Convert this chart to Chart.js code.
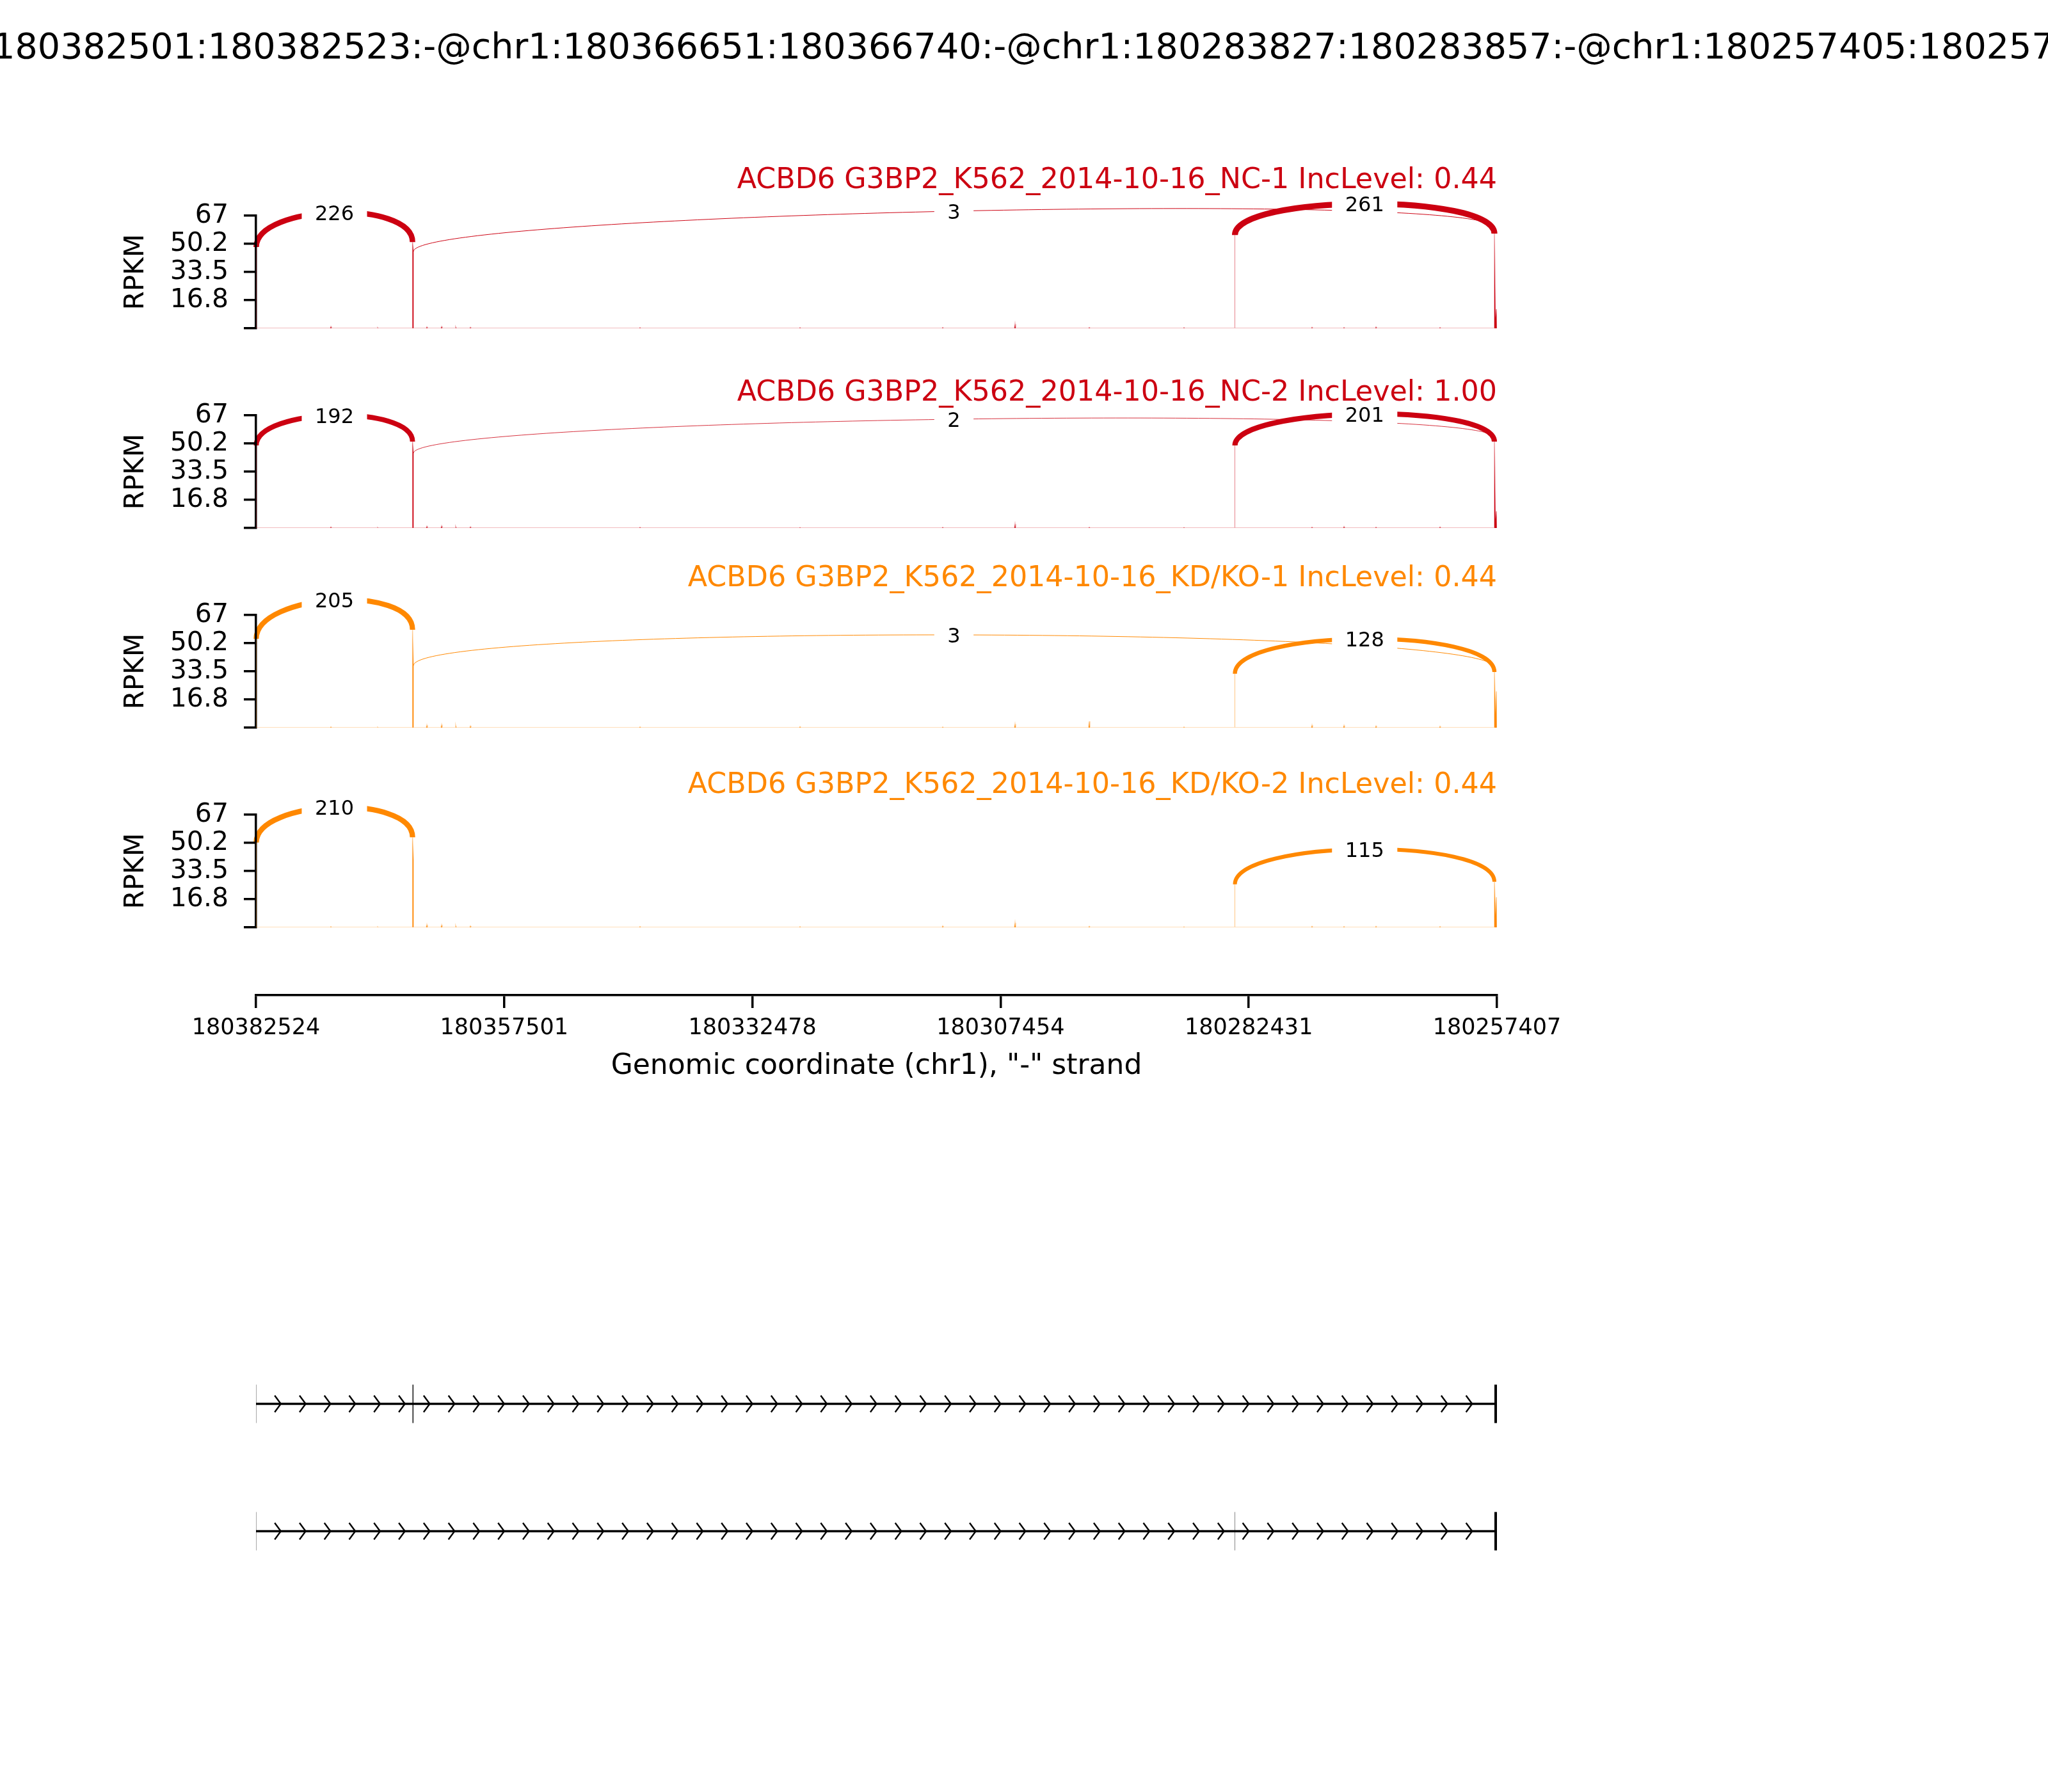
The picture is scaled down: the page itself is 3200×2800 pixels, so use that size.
<!DOCTYPE html>
<html>
<head>
<meta charset="utf-8">
<script src="https://cdn.jsdelivr.net/npm/chart.js@4.4.1/dist/chart.umd.min.js"></script>
<style>
  html, body { margin: 0; padding: 0; background: #fff; }
  #fig { position: relative; width: 3200px; height: 2800px; background: #fff; overflow: hidden; }
  #fig canvas { position: absolute; left: 0; }
</style>
</head>
<body>
<div id="fig"></div>
<script>
// ---- data ----
const eventTitle = 'chr1:180382501:180382523:-@chr1:180366651:180366740:-@chr1:180283827:180283857:-@chr1:180257405:180257665:-';
const sampleNames = ['ACBD6 G3BP2_K562_2014-10-16_NC-1', 'ACBD6 G3BP2_K562_2014-10-16_NC-2',
                     'ACBD6 G3BP2_K562_2014-10-16_KD/KO-1', 'ACBD6 G3BP2_K562_2014-10-16_KD/KO-2'];
const incLevels = ['0.44', '1.00', '0.44', '0.44'];
const sampleColors = ['#CC0011', '#CC0011', '#FF8800', '#FF8800'];

// genomic window (minus strand, drawn right to left)
const xLeft = 180382524;
const xRight = 180257407;
const xTicks = [180382524, 180357501, 180332478, 180307454, 180282431, 180257407];
const xTickLabels = ['180382524', '180357501', '180332478', '180307454', '180282431', '180257407'];
const yTicks = [0, 16.75, 33.5, 50.25, 67];
const yTickLabels = ['', '16.8', '33.5', '50.2', '67'];

// exons and the two isoforms
const exonStarts = [180382501, 180366651, 180283827, 180257405];
const exonEnds = [180382523, 180366740, 180283857, 180257665];
const isoforms = [[0, 1, 3], [0, 2, 3]];

// junctions (donor end -> acceptor end)
const junctionFrom = [180382501, 180366651, 180283827];
const junctionTo = [180366740, 180257665, 180257665];
const junctionCounts = [[226, 3, 261], [192, 2, 201], [205, 3, 128], [210, 0, 115]];
// RPKM where each arc leaves, lands, and at its middle (label)
const junctionLeft = [[48.3, 45.7, 55.5], [49.1, 44.5, 49.1], [52.8, 36.9, 32.1], [50.4, 0, 25.6]];
const junctionRight = [[51.3, 59.8, 56.3], [51.4, 53.7, 51.4], [58.2, 35.8, 33.1], [53.6, 0, 27.1]];
const junctionMid = [[68.9, 69.7, 74.1], [67.0, 64.7, 67.8], [75.9, 55.2, 52.8], [71.4, 0, 46.5]];

// read coverage on the exons
const exonCovPos = [[180382523, 180382501], [180366740, 180366651], [180283857, 180283827],
                    [180257665, 180257560, 180257470, 180257430]];
const exonCovRPKM = [
  [[48.3, 48.3], [51.3, 45.7], [55.5, 55.5], [56.3, 6, 11.4, 4]],
  [[49.1, 49.1], [51.4, 44.5], [49.1, 49.1], [51.4, 5, 10, 3]],
  [[52.8, 52.8], [58.2, 36.9], [32.1, 32.1], [33.1, 8, 21.6, 5]],
  [[50.4, 50.4], [53.6, 40.0], [25.6, 25.6], [27.1, 7, 18, 4]]
];
// small intronic read piles
const bumpPos = [180374974, 180370264, 180365295, 180363811, 180362392, 180360907, 180343808, 180327676,
                 180313287, 180305995, 180298510, 180288960, 180276054, 180272828, 180269602, 180263149];
const bumpRPKM = [
  [1.0, 0.4, 0.8, 1.0, 0.8, 0.6, 0.4, 0.4, 0.5, 2.6, 0.5, 0.4, 0.6, 0.5, 0.8, 0.5],
  [0.6, 0.3, 1.0, 1.2, 0.9, 0.7, 0.4, 0.3, 0.4, 2.4, 0.4, 0.3, 0.5, 0.8, 0.5, 0.6],
  [0.5, 0.3, 1.5, 1.8, 1.4, 1.0, 0.5, 0.6, 0.4, 2.2, 3.8, 0.4, 1.5, 1.3, 1.0, 0.8],
  [0.4, 0.3, 1.6, 1.4, 1.0, 0.8, 0.5, 0.4, 0.8, 2.8, 0.6, 0.3, 0.6, 0.5, 0.6, 0.5]
];

// ---- layout ----
const FONT = 'DejaVu Sans';
Chart.defaults.font.family = FONT;
Chart.defaults.color = '#000';
const fig = document.getElementById('fig');
const panelTops = [337, 649, 961, 1273];
const panelTitleY = [282, 614, 904, 1227];
const panelH = 176;

function addCanvas(top, height, left = 0, width = 3200) {
  const c = document.createElement('canvas');
  c.width = width;
  c.height = height;
  c.style.top = top + 'px';
  c.style.left = left + 'px';
  c.style.width = width + 'px';
  c.style.height = height + 'px';
  fig.appendChild(c);
  return c;
}

function rgba(hex, a) {
  const n = parseInt(hex.slice(1), 16);
  return 'rgba(' + (n >> 16) + ',' + ((n >> 8) & 255) + ',' + (n & 255) + ',' + a + ')';
}

function coverageSeries(k) {
  const pts = [{x: xLeft, y: 0}, {x: xRight, y: 0}];
  exonCovPos.forEach((pos, e) => {
    pts.push({x: pos[0] + 1, y: 0});
    pos.forEach((p, i) => pts.push({x: p, y: exonCovRPKM[k][e][i]}));
    pts.push({x: pos[pos.length - 1] - 1, y: 0});
  });
  bumpPos.forEach((p, i) => {
    pts.push({x: p + 60, y: 0}, {x: p, y: bumpRPKM[k][i]}, {x: p - 60, y: 0});
  });
  return pts.sort((a, b) => b.x - a.x);
}

// splice junction arcs with white count labels
const junctionArcs = {
  id: 'junctionArcs',
  beforeDraw(chart, args, opts) {
    const k = opts.sample;
    const ctx = chart.ctx;
    const xs = chart.scales.x, ys = chart.scales.y;
    const labels = [];
    ctx.save();
    junctionFrom.forEach((from, j) => {
      const n = junctionCounts[k][j];
      if (!n) return;
      const x1 = xs.getPixelForValue(from), x2 = xs.getPixelForValue(junctionTo[j]);
      const y1 = ys.getPixelForValue(junctionLeft[k][j]);
      const y2 = ys.getPixelForValue(junctionRight[k][j]);
      const ym = ys.getPixelForValue(junctionMid[k][j]);
      const lift = ((y1 + y2) / 2 - ym) / 0.75;
      ctx.beginPath();
      ctx.moveTo(x1, y1);
      ctx.bezierCurveTo(x1, y1 - lift, x2, y2 - lift, x2, y2);
      ctx.lineWidth = 0.57 * Math.sqrt(n);
      ctx.strokeStyle = sampleColors[k];
      ctx.lineCap = 'butt';
      ctx.stroke();
      labels.push([(x1 + x2) / 2, ym, String(n)]);
    });
    ctx.font = '32px "' + FONT + '"';
    ctx.textAlign = 'center';
    ctx.textBaseline = 'alphabetic';
    labels.forEach(([x, y, t]) => {
      const w = ctx.measureText(t).width + 41;
      ctx.fillStyle = '#fff';
      ctx.fillRect(x - w / 2, y - 39, w, 78);
      ctx.fillStyle = '#000';
      ctx.fillText(t, x, y + 11.7);
    });
    ctx.restore();
  }
};

// strand chevrons on the isoform backbones
const strandArrows = {
  id: 'strandArrows',
  afterDatasetsDraw(chart) {
    const ctx = chart.ctx;
    const xs = chart.scales.x, ys = chart.scales.y;
    const x0 = xs.getPixelForValue(exonEnds[0]);
    const x1 = xs.getPixelForValue(exonStarts[3]);
    const step = (x1 - x0) / 50;
    ctx.save();
    ctx.strokeStyle = '#000';
    ctx.lineWidth = 2.4;
    isoforms.forEach((iso, r) => {
      const y = ys.getPixelForValue(r);
      for (let i = 1; i < 50; i++) {
        const tip = x0 + i * step;
        ctx.beginPath();
        ctx.moveTo(tip - 9.6, y - 13);
        ctx.lineTo(tip, y);
        ctx.lineTo(tip - 9.6, y + 13);
        ctx.stroke();
      }
    });
    ctx.restore();
  }
};

const base = {responsive: false, animation: false, devicePixelRatio: 1, events: []};

// overall event title (canvas wider than the page so the text is not squeezed;
// the page edges crop it)
new Chart(addCanvas(0, 160, -600, 4400), {
  type: 'line',
  data: {datasets: []},
  options: Object.assign({}, base, {
    layout: {padding: 0},
    plugins: {
      legend: {display: false},
      tooltip: {enabled: false},
      title: {display: true, text: eventTitle, color: '#000', font: {size: 55.5, weight: 'normal'},
              padding: {top: 43.7, bottom: 0}}
    },
    scales: {x: {display: false}, y: {display: false}}
  })
});

// one sashimi panel per sample
sampleNames.forEach((name, k) => {
  const top = panelTops[k] - 140;
  const lh = 44.4 * 1.2;
  new Chart(addCanvas(top, 140 + panelH + 50), {
    type: 'line',
    data: {
      datasets: [{
        data: coverageSeries(k),
        borderColor: rgba(sampleColors[k], 0.35),
        borderWidth: 1.5,
        backgroundColor: sampleColors[k],
        fill: 'origin',
        pointRadius: 0,
        tension: 0
      }]
    },
    options: Object.assign({}, base, {
      layout: {padding: {left: 188, right: 861, top: 0, bottom: 50}},
      plugins: {
        legend: {display: false},
        tooltip: {enabled: false},
        subtitle: {
          display: true, text: name + ' IncLevel: ' + incLevels[k], align: 'end',
          color: sampleColors[k], font: {size: 44.4, weight: 'normal'},
          padding: {top: panelTitleY[k] - top - lh / 2, bottom: panelTops[k] - panelTitleY[k] - lh / 2}
        },
        junctionArcs: {sample: k}
      },
      scales: {
        x: {type: 'linear', reverse: true, min: xRight, max: xLeft, display: false},
        y: {
          type: 'linear', min: 0, max: 67,
          afterFit: s => { s.width = 212; },
          afterBuildTicks: s => { s.ticks = yTicks.map(v => ({value: v})); },
          ticks: {callback: (v, i) => yTickLabels[i], autoSkip: false, font: {size: 41},
                  color: '#000', padding: 24},
          grid: {drawOnChartArea: false, tickLength: 19, lineWidth: 3.5, color: '#000'},
          border: {display: true, width: 3.5, color: '#000'},
          title: {display: true, text: 'RPKM', font: {size: 42}, color: '#000', padding: 0}
        }
      }
    }),
    plugins: [junctionArcs]
  });
});

// genomic coordinate axis
new Chart(addCanvas(1400, 320), {
  type: 'line',
  data: {datasets: []},
  options: Object.assign({}, base, {
    layout: {padding: {left: 400, right: 861, top: 0, bottom: 0}},
    plugins: {legend: {display: false}, tooltip: {enabled: false}},
    scales: {
      x: {
        type: 'linear', reverse: true, min: xRight, max: xLeft, position: 'bottom',
        afterFit: s => { s.height = 165; },
        afterBuildTicks: s => { s.ticks = xTicks.map(v => ({value: v})); },
        ticks: {callback: (v, i) => xTickLabels[i], autoSkip: false, maxRotation: 0,
                font: {size: 35}, color: '#000', padding: 11},
        grid: {drawOnChartArea: false, tickLength: 20, lineWidth: 3.5, color: '#000'},
        border: {display: true, width: 3.5, color: '#000'},
        title: {display: true, text: 'Genomic coordinate (chr1), "-" strand', font: {size: 44},
                color: '#000', padding: {top: 0, bottom: 26.6}}
      },
      y: {display: false}
    }
  })
});

// isoform structures
const trackData = {
  labels: ['isoform 1', 'isoform 2'],
  datasets: [{
    data: isoforms.map(iso => [exonStarts[iso[iso.length - 1]], exonEnds[iso[0]]]),
    backgroundColor: '#000', barThickness: 3.5, grouped: false, inflateAmount: 0
  }].concat(exonStarts.map((s, e) => ({
    data: isoforms.map(iso => iso.includes(e) ? [s, exonEnds[e]] : null),
    backgroundColor: '#000', barThickness: 60, grouped: false, inflateAmount: 0
  })))
};
new Chart(addCanvas(2094, 398), {
  type: 'bar',
  data: trackData,
  options: Object.assign({}, base, {
    indexAxis: 'y',
    layout: {padding: {left: 400, right: 861, top: 0, bottom: 0}},
    plugins: {legend: {display: false}, tooltip: {enabled: false}},
    scales: {
      x: {type: 'linear', reverse: true, min: xRight, max: xLeft, display: false},
      y: {type: 'category', display: false}
    }
  }),
  plugins: [strandArrows]
});
</script>
</body>
</html>
